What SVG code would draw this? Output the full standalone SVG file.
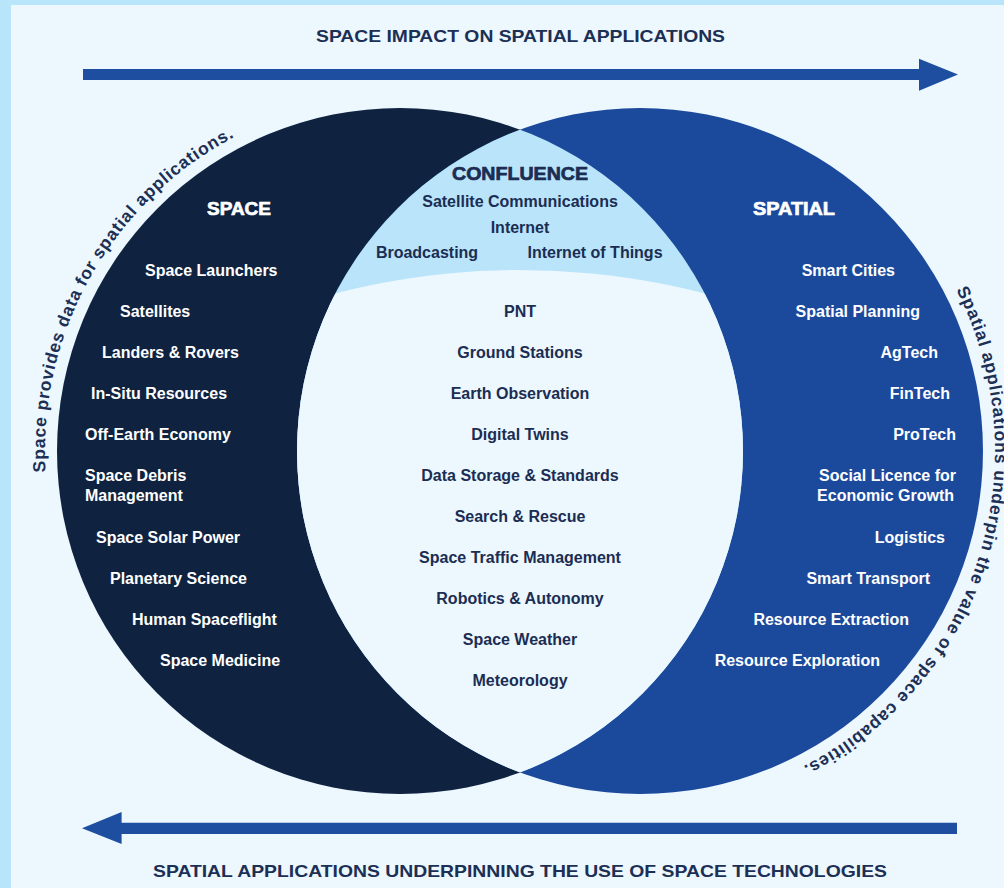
<svg xmlns="http://www.w3.org/2000/svg" width="1004" height="888" viewBox="0 0 1004 888">
<style>
.t{font-family:"Liberation Sans",Arial,sans-serif;font-weight:bold;font-size:16px}
.w{fill:#ffffff}
.d{fill:#1b2d52}
.h{font-family:"Liberation Sans",Arial,sans-serif;font-weight:bold;font-size:19px;stroke-width:0.7}
.ttl{font-family:"Liberation Sans Narrow","Liberation Sans",Arial,sans-serif;font-weight:bold;font-size:17px;fill:#1c2f55}
.arc{font-family:"Liberation Sans",Arial,sans-serif;font-weight:bold;font-size:17.5px;fill:#1c2f55;letter-spacing:0.8px}
.arrow{fill:#1d4e9f}
</style>
<defs>
<clipPath id="clipL"><circle cx="400" cy="451" r="343"/></clipPath>
<clipPath id="clipR"><circle cx="640" cy="451" r="343"/></clipPath>
<path id="arcL" d="M45.6,472.1 A355,355 0 0,1 338.4,101.4"/>
<path id="arcR" d="M956.3,289.8 A355,355 0 0,1 701.6,800.6"/>
</defs>
<rect x="0" y="0" width="1004" height="888" fill="#b9e5fb"/>
<rect x="11" y="5" width="993" height="883" fill="#ecf7fe"/>

<g id="connectors">
<path class="arrow" d="M83,69 L919,69 L919,58.7 L958,74.5 L919,90.7 L919,80 L83,80 Z"/>
<path class="arrow" d="M957,822.7 L121.6,822.7 L121.6,812 L82,828.3 L121.6,844 L121.6,834 L957,834 Z"/>
</g>

<g id="titles">
<text class="ttl" x="316" y="42" textLength="409" lengthAdjust="spacingAndGlyphs">SPACE IMPACT ON SPATIAL APPLICATIONS</text>
<text class="ttl" x="153" y="877" textLength="734" lengthAdjust="spacingAndGlyphs">SPATIAL APPLICATIONS UNDERPINNING THE USE OF SPACE TECHNOLOGIES</text>
</g>

<g id="space">
<circle cx="400" cy="451" r="343" fill="#0f2341"/>
<text class="h w" x="207" y="215" stroke="#ffffff" textLength="64" lengthAdjust="spacingAndGlyphs">SPACE</text>
<text class="t w" x="145" y="276">Space Launchers</text>
<text class="t w" x="120" y="317">Satellites</text>
<text class="t w" x="102" y="358">Landers &amp; Rovers</text>
<text class="t w" x="91" y="399">In-Situ Resources</text>
<text class="t w" x="85" y="440">Off-Earth Economy</text>
<text class="t w" x="85" y="481">Space Debris</text>
<text class="t w" x="85" y="501">Management</text>
<text class="t w" x="96" y="543">Space Solar Power</text>
<text class="t w" x="110" y="584">Planetary Science</text>
<text class="t w" x="132" y="625">Human Spaceflight</text>
<text class="t w" x="160" y="666">Space Medicine</text>
</g>

<g id="spatial">
<circle cx="640" cy="451" r="343" fill="#1b4a9c"/>
<text class="h w" x="753" y="215" stroke="#ffffff" textLength="82" lengthAdjust="spacingAndGlyphs">SPATIAL</text>
<g text-anchor="end">
<text class="t w" x="895" y="276">Smart Cities</text>
<text class="t w" x="920" y="317">Spatial Planning</text>
<text class="t w" x="938" y="358">AgTech</text>
<text class="t w" x="950" y="399">FinTech</text>
<text class="t w" x="956" y="440">ProTech</text>
<text class="t w" x="956" y="481">Social Licence for</text>
<text class="t w" x="954" y="501">Economic Growth</text>
<text class="t w" x="945" y="543">Logistics</text>
<text class="t w" x="930" y="584">Smart Transport</text>
<text class="t w" x="909" y="625">Resource Extraction</text>
<text class="t w" x="880" y="666">Resource Exploration</text>
</g>
</g>

<g id="confluence">
<g clip-path="url(#clipL)"><g clip-path="url(#clipR)">
<rect x="170" y="100" width="700" height="700" fill="#b9e4fa"/>
<circle cx="520" cy="1005" r="735" fill="#ecf7fe"/>
</g></g>
<text class="h d" x="452" y="180" stroke="#1b2d52" textLength="136" lengthAdjust="spacingAndGlyphs">CONFLUENCE</text>
<g text-anchor="middle">
<text class="t d" x="520" y="207">Satellite Communications</text>
<text class="t d" x="520" y="233">Internet</text>
<text class="t d" x="427" y="258">Broadcasting</text>
<text class="t d" x="595" y="258">Internet of Things</text>
<text class="t d" x="520" y="317">PNT</text>
<text class="t d" x="520" y="358">Ground Stations</text>
<text class="t d" x="520" y="399">Earth Observation</text>
<text class="t d" x="520" y="440">Digital Twins</text>
<text class="t d" x="520" y="481">Data Storage &amp; Standards</text>
<text class="t d" x="520" y="522">Search &amp; Rescue</text>
<text class="t d" x="520" y="563">Space Traffic Management</text>
<text class="t d" x="520" y="604">Robotics &amp; Autonomy</text>
<text class="t d" x="520" y="645">Space Weather</text>
<text class="t d" x="520" y="686">Meteorology</text>
</g>
</g>

<g id="arc-labels">
<text class="arc"><textPath href="#arcL">Space provides data for spatial applications.</textPath></text>
<text class="arc"><textPath href="#arcR">Spatial applications underpin the value of space capabilities.</textPath></text>
</g>
</svg>
